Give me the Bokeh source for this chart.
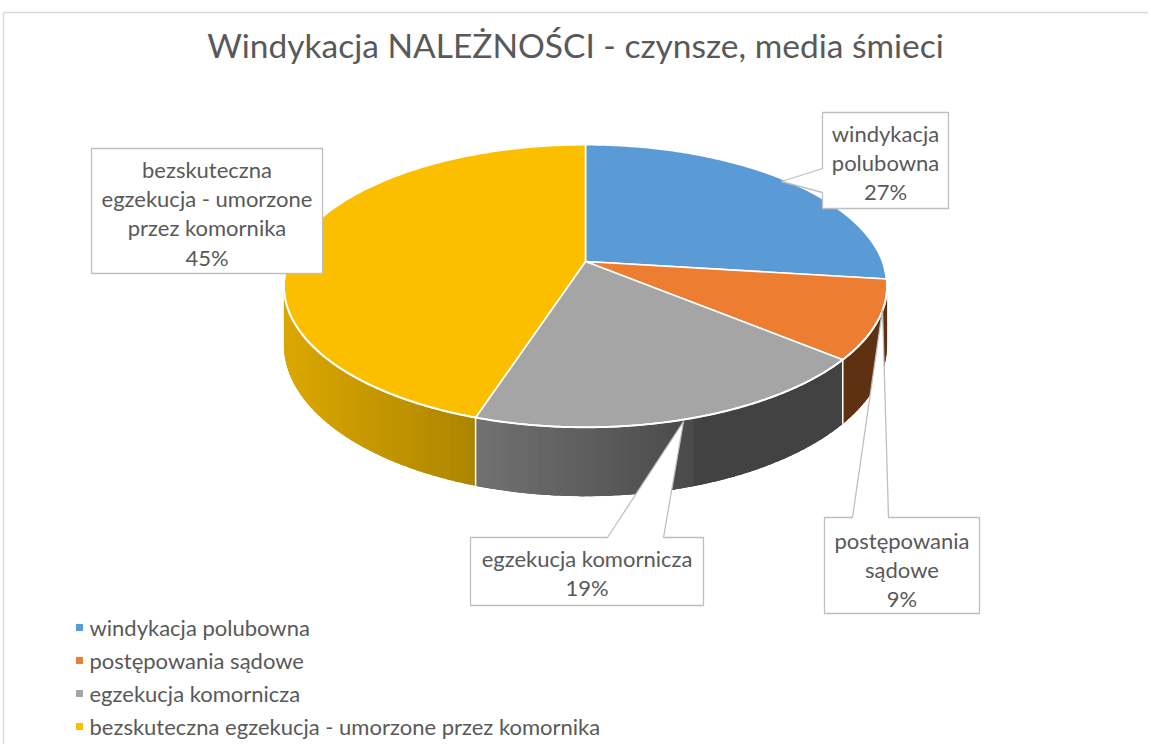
import numpy as np
from bokeh.plotting import figure
from bokeh.models import Range1d
from bokeh.core.properties import value
from bokeh.embed import file_html
from bokeh.resources import INLINE

# ---------------- data ----------------
categories = ["windykacja polubowna", "postępowania sądowe", "egzekucja komornicza",
              "bezskuteczna egzekucja - umorzone przez komornika"]
values = [27, 9, 19, 45]
label_lines = [["windykacja", "polubowna"], ["postępowania", "sądowe"],
               ["egzekucja komornicza"], ["bezskuteczna", "egzekucja - umorzone", "przez komornika"]]
title_text = "Windykacja NALEŻNOŚCI - czynsze, media śmieci"
top_colors = ["#5B9BD5", "#ED7D31", "#A5A5A5", "#FBBF00"]

# ---------------- layout / style ----------------
W, H = 1148, 744
OFF = 0
FONT = "Lato"
TXT = "#595959"
CX, CY, KX, KY, DIST, DEPTH = 585, 261, 297, 137, 5.77, 57

p = figure(width=W, height=H, x_range=Range1d(0, W), y_range=Range1d(H, 0),
           output_backend="svg", toolbar_location=None, min_border=0)
p.axis.visible = False
p.grid.visible = False
p.outline_line_color = None
p.background_fill_color = "white"
p.border_fill_color = "white"


def X(sx):
    return np.asarray(sx, dtype=float) - OFF


def Y(sy):
    return np.asarray(sy, dtype=float) - OFF


def proj(theta_deg, drop=0.0):
    t = np.radians(theta_deg)
    xr, zr = np.sin(t), np.cos(t)
    s = DIST / (DIST + zr)
    return CX + KX * xr * s, CY - KY * zr * s + drop * s


def lerp_hex(c0, c1, f):
    f = min(max(f, 0.0), 1.0)
    a = [int(c0[i:i + 2], 16) for i in (1, 3, 5)]
    b = [int(c1[i:i + 2], 16) for i in (1, 3, 5)]
    return "#%02x%02x%02x" % tuple(int(round(a[k] + (b[k] - a[k]) * f)) for k in range(3))


def wall_color(i, sx):
    if i == 3:
        return lerp_hex("#DBA700", "#AC8500", (sx - 285) / (471 - 285))
    if i == 2:
        if sx < 690:
            return lerp_hex("#727272", "#4A4A4A", (sx - 471) / (690 - 471))
        return "#424242"
    if i == 1:
        return "#5E3113"
    return "#2E5F8F"


# chart border
p.line(X([1151, 3]), Y([12, 12]), line_color="#D9D9D9", line_width=1.5)
p.line(X([3, 3]), Y([12, 747]), line_color="#D9D9D9", line_width=1.5)

# ---------------- pie ----------------
total = float(sum(values))
cum = np.concatenate([[0.0], np.cumsum(values)]) / total * 360.0
theta_r = np.degrees(np.arccos(-1.0 / DIST))
theta_l = 360.0 - theta_r

# base wall polygons (solid) then overlapping shading strips on top
bx, by, bc = [], [], []
wx, wy, wc = [], [], []
for i in range(len(values)):
    a0, a1 = max(cum[i], theta_r), min(cum[i + 1], theta_l)
    if a1 <= a0:
        continue
    ts = np.linspace(a0, a1, 120)
    tx_top, ty_top = proj(ts)
    tx_bot, ty_bot = proj(ts[::-1], DEPTH)
    bx.append(X(np.concatenate([tx_top, tx_bot])))
    by.append(Y(np.concatenate([ty_top, ty_bot])))
    bc.append(wall_color(i, float(np.mean(tx_top))))
    n = max(int(np.ceil((a1 - a0) / 1.5)), 1)
    edges = np.linspace(a0, a1, n + 1)
    for j in range(n):
        t0, t1 = edges[j], min(edges[j + 1] + 0.8, a1)
        x0, y0 = proj(t0)
        x1, y1 = proj(t1)
        x0b, y0b = proj(t0, DEPTH)
        x1b, y1b = proj(t1, DEPTH)
        wx.append(X([x0, x1, x1b, x0b]))
        wy.append(Y([y0, y1, y1b, y0b]))
        wc.append(wall_color(i, (x0 + x1) / 2))
p.patches(bx, by, fill_color=bc, line_color=None)
p.patches(wx, wy, fill_color=wc, line_color=None)

# white edges between walls
for b in cum[1:-1]:
    if theta_r < b < theta_l:
        xa, ya = proj(b)
        xb, yb = proj(b, DEPTH)
        p.line(X([xa, xb]), Y([ya, yb]), line_color="white", line_width=1.5)

# top faces
fx, fy = [], []
for i in range(len(values)):
    ts = np.linspace(cum[i], cum[i + 1], 200)
    rx, ry = proj(ts)
    fx.append(X(np.concatenate([[CX], rx])))
    fy.append(Y(np.concatenate([[CY], ry])))
p.patches(fx, fy, fill_color=top_colors, line_color="white", line_width=1.6)

# rim highlight on the front
ts = np.linspace(theta_r - 8, theta_l + 8, 300)
rx, ry = proj(ts)
p.line(X(rx), Y(ry), line_color="white", line_width=2)

# ---------------- callouts ----------------
BORDER = "#BFBFBF"
boxes = [(822, 112, 948, 208), (824, 517, 979, 613), (470, 537, 703, 605), (91, 148, 322, 273)]
pointers = [("left", 168, 192, 781, 181), ("top", 852, 888, 882, 309),
            ("top", 607, 663, 683, 421), None]
cx_list, cy_list = [], []
for k, (x0, y0, x1, y1) in enumerate(boxes):
    ptr = pointers[k]
    if ptr is None:
        xs = [x0, x1, x1, x0]
        ys = [y0, y0, y1, y1]
    elif ptr[0] == "top":
        _, pa, pb, tx, ty = ptr
        xs = [x0, pa, tx, pb, x1, x1, x0]
        ys = [y0, y0, ty, y0, y0, y1, y1]
    else:
        _, pa, pb, tx, ty = ptr
        xs = [x0, x1, x1, x0, x0, tx, x0]
        ys = [y0, y0, y1, y1, pb, ty, pa]
    cx_list.append(X(xs))
    cy_list.append(Y(ys))
p.patches(cx_list, cy_list, fill_color="white", line_color=BORDER, line_width=1.3)

label_starts = [133, 540, 558, 169]
LINE_STEP = 29.2
tx_, ty_, tt_ = [], [], []
for k, (x0, y0, x1, y1) in enumerate(boxes):
    lines = label_lines[k] + ["%d%%" % values[k]]
    for j, ln in enumerate(lines):
        tx_.append(X((x0 + x1) / 2))
        ty_.append(Y(label_starts[k] + j * LINE_STEP))
        tt_.append(ln)
p.text(x=tx_, y=ty_, text=tt_, text_font=value(FONT), text_font_size=value("22px"),
       text_color=TXT, text_align="center", text_baseline="middle")

# ---------------- title ----------------
p.text(x=[X(575)], y=[Y(44)], text=[title_text], text_font=value(FONT),
       text_font_size=value("33.5px"), text_color=TXT, text_align="center",
       text_baseline="middle", text_font_style="normal")

# ---------------- legend ----------------
leg_y = [627, 660, 693, 726]
p.rect(x=X([79] * 4), y=Y(leg_y), width=7, height=7, fill_color=top_colors, line_color=None)
p.text(x=X([89] * 4), y=Y(leg_y), text=categories, text_font=value(FONT),
       text_font_size=value("22px"), text_color=TXT, text_align="left", text_baseline="middle")

open("out.html", "w").write(file_html(p, INLINE))
